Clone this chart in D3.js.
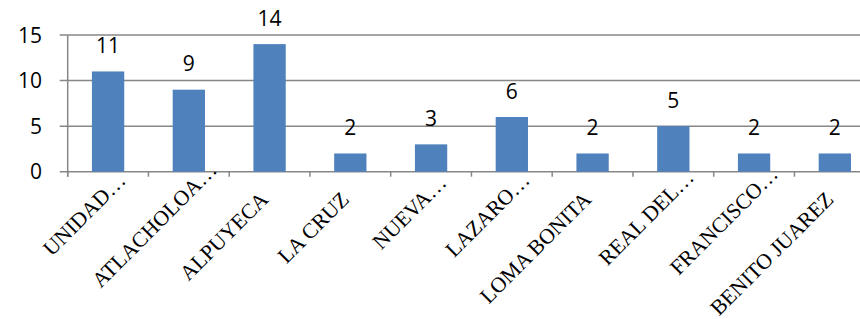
<!DOCTYPE html>
<html>
<head>
<meta charset="utf-8">
<script src="https://cdn.jsdelivr.net/npm/d3@7"></script>
<style>
  html, body { margin: 0; padding: 0; background: #fff; }
  svg { display: block; }
</style>
</head>
<body>
<svg id="chart" width="860" height="319"></svg>
<script>
const categories = ["UNIDAD…", "ATLACHOLOA…", "ALPUYECA", "LA CRUZ", "NUEVA…", "LAZARO…", "LOMA BONITA", "REAL DEL…", "FRANCISCO…", "BENITO JUAREZ"];
const values = [11, 9, 14, 2, 3, 6, 2, 5, 2, 2];
const yTicks = [0, 5, 10, 15];

const svg = d3.select("#chart");
const W = 860, H = 319;
const x0 = 67.7, step = 80.75;
const x = d3.scaleBand().domain(categories)
  .range([x0, x0 + step * categories.length])
  .paddingInner(0.6).paddingOuter(0.3);
const y = d3.scaleLinear().domain([0, 15]).range([171.7, 35]);

const gridColor = "#878787";

// gridlines
svg.append("g").selectAll("line").data(yTicks).join("line")
  .attr("x1", x0 - 8).attr("x2", W)
  .attr("y1", d => y(d)).attr("y2", d => y(d))
  .attr("stroke", gridColor).attr("stroke-width", 1.5);

// y axis line
svg.append("line")
  .attr("x1", x0).attr("x2", x0)
  .attr("y1", y(15)).attr("y2", y(0) + 5)
  .attr("stroke", gridColor).attr("stroke-width", 1.5);

// category ticks
svg.append("g").selectAll("line").data(d3.range(categories.length + 1)).join("line")
  .attr("x1", i => x0 + i * step).attr("x2", i => x0 + i * step)
  .attr("y1", y(0)).attr("y2", y(0) + 5)
  .attr("stroke", gridColor).attr("stroke-width", 1.5);

// y tick labels
svg.append("g").selectAll("text").data(yTicks).join("text")
  .attr("x", 42).attr("y", d => y(d) + 7.5)
  .attr("text-anchor", "end")
  .attr("font-family", "'Open Sans', sans-serif")
  .attr("font-size", 21)
  .attr("fill", "#000")
  .text(d => d);

// bars
svg.append("g").selectAll("rect").data(values).join("rect")
  .attr("x", (d, i) => x(categories[i]))
  .attr("width", x.bandwidth())
  .attr("y", d => y(d))
  .attr("height", d => y(0) - y(d))
  .attr("fill", "#4F81BD");

// value labels
svg.append("g").selectAll("text").data(values).join("text")
  .attr("x", (d, i) => x(categories[i]) + x.bandwidth() / 2)
  .attr("y", d => y(d) - 18.5)
  .attr("text-anchor", "middle")
  .attr("font-family", "'Open Sans', sans-serif")
  .attr("font-size", 21)
  .attr("fill", "#000")
  .text(d => d);

// category labels
const labY = y(0) + 29;
svg.append("g").selectAll("text").data(categories).join("text")
  .attr("text-anchor", "end")
  .attr("font-family", "'Liberation Serif', 'Times New Roman', serif")
  .attr("font-size", 21.5)
  .attr("fill", "#000")
  .text(d => d)
  .each(function(d) {
    const cx = x(d) + x.bandwidth() / 2;
    let shift = 0;
    if (d.endsWith("…")) shift = 0.25 * this.getComputedTextLength();
    const ax = cx + shift * Math.SQRT1_2;
    const ay = labY - shift * Math.SQRT1_2;
    d3.select(this).attr("transform", `translate(${ax},${ay}) rotate(-45)`);
  });
</script>
</body>
</html>
